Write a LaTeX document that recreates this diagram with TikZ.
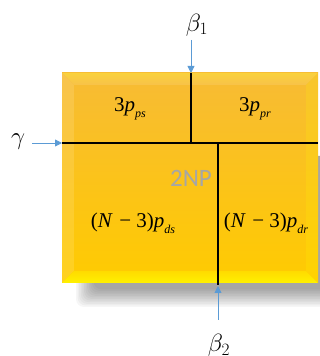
\documentclass[tikz,border=0pt]{standalone}
\usepackage{fontspec}
\newfontfamily\calib{Carlito}
\newfontfamily\tnr{Liberation Serif}
\usetikzlibrary{arrows.meta}
\definecolor{arrowblue}{HTML}{5B9BD5}
\definecolor{faceTop}{HTML}{F7BB35}
\definecolor{faceBot}{HTML}{FFCB00}
\newcommand{\csub}[1]{\raisebox{-0.28em}{\fontsize{12}{12}\selectfont\itshape #1}}
\newcommand{\cminus}{\hspace{0.3em}−\hspace{0.25em}}
\tikzset{
  divline/.style={line width=1.3pt, black},
  inarrow/.style={arrowblue, line width=0.8pt, -{Triangle[length=7pt,width=7pt]}},
  cellmath/.style={font=\tnr\fontsize{21}{23}\selectfont, inner sep=0pt},
  outlabel/.style={font=\fontsize{24}{26}\selectfont, inner sep=0pt},
}
\begin{document}
\begin{tikzpicture}[x=1pt,y=1pt]
\useasboundingbox (0,0) rectangle (320,356);
% shadow
\foreach \i in {0,...,11}
  \fill[black,opacity=0.035,rounded corners=8pt] (76+\i*1.6,49+\i*1.6) rectangle (345-\i,200);
% corners
\coordinate (bl) at (62,73);
\coordinate (br) at (318,73);
\coordinate (tr) at (318,283);
\coordinate (tl) at (62,283);
\coordinate (ibl) at (74,85);
\coordinate (ibr) at (306,85);
\coordinate (itr) at (306,271);
\coordinate (itl) at (74,271);
% face
\shade[top color=faceTop, bottom color=faceBot] (bl) rectangle (tr);
% bevels
\shade[top color=faceTop!75!yellow!90!white, bottom color=faceTop!90!white] (tl) -- (tr) -- (itr) -- (itl) -- cycle;
\shade[top color=faceTop!88!white, bottom color=faceBot!88!white] (tl) -- (itl) -- (ibl) -- (bl) -- cycle;
\shade[top color=faceBot!70!yellow, bottom color=yellow!90!orange] (bl) -- (ibl) -- (ibr) -- (br) -- cycle;
\shade[top color=faceTop!85!yellow, bottom color=faceBot!85!yellow] (tr) -- (br) -- (ibr) -- (itr) -- cycle;
% division lines
\coordinate (hL) at (62,213);
\coordinate (hR) at (318,213);
\coordinate (v1t) at (191,283);
\coordinate (v1b) at (191,213);
\coordinate (v2t) at (218,213);
\coordinate (v2b) at (218,71);
\draw[divline] (hL) -- (hR);
\draw[divline] (v1t) -- (v1b);
\draw[divline] (v2t) -- (v2b);
% cell labels
\node[cellmath] (pps) at (130,247) {3\textit{p}\csub{ps}};
\node[cellmath] (ppr) at (255,247) {3\textit{p}\csub{pr}};
\node[cellmath] (pds) at (133,133) {(\textit{N}\cminus3)\textit{p}\csub{ds}};
\node[cellmath] (pdr) at (266,133) {(\textit{N}\cminus3)\textit{p}\csub{dr}};
\node[font=\calib\fontsize{25}{27}\selectfont, text=black!35] (np) at (191,178) {2NP};
% inputs
\node[outlabel] (b1) at (197,331) {$\beta_1$};
\coordinate (b1s) at (191,316);
\draw[inarrow] (b1s) -- (v1t);
\node[outlabel,font=\fontsize{28}{30}\selectfont] (g) at (18,214) {$\gamma$};
\coordinate (gs) at (32,213);
\draw[inarrow] (gs) -- (hL);
\node[outlabel, anchor=north] (b2) at (219,22) {$\beta_2$};
\coordinate (b2s) at (218,36);
\coordinate (b2e) at (218,70);
\draw[inarrow] (b2s) -- (b2e);
\end{tikzpicture}
\end{document}
